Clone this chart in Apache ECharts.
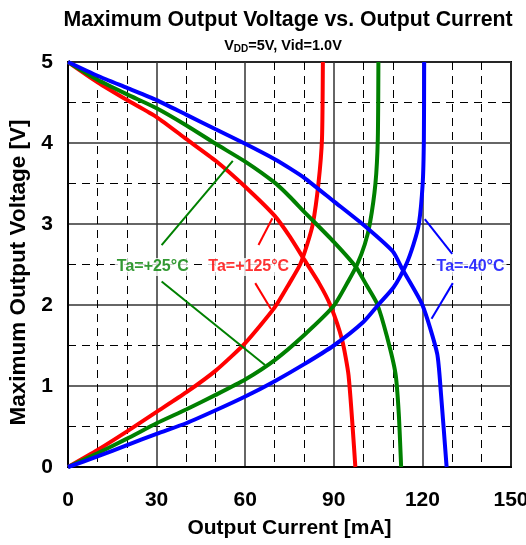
<!DOCTYPE html>
<html><head><meta charset="utf-8">
<script src="https://cdn.jsdelivr.net/npm/echarts@6/dist/echarts.min.js"></script>
<style>html,body{margin:0;padding:0;background:#fff}#c{width:526px;height:545px}</style>
</head><body><div id="c"></div>
<script>
// Tick labels
const xTickLabels = [0, 30, 60, 90, 120, 150];
const yTickLabels = [0, 1, 2, 3, 4, 5];

// Falling curves (from 5 V at 0 mA) [mA, V]
const fall125 = [[0,5],[10,4.75],[20,4.53],[30,4.32],[40,4.05],[50,3.78],[60,3.46],[70,3.1],[75,2.85],[80,2.56],[85,2.27],[88.8,2.0],[92.8,1.57],[95,1.13],[97.3,0]];
const fall25  = [[0,5],[10,4.78],[20,4.6],[30,4.43],[40,4.22],[50,3.99],[60,3.77],[70,3.51],[75,3.34],[80,3.15],[90,2.78],[97.5,2.47],[101,2.25],[104.6,2.02],[108,1.61],[110.9,1.15],[112,0.66],[112.8,0]];
const fallM40 = [[0,5],[10,4.83],[20,4.68],[30,4.53],[40,4.35],[50,4.17],[60,3.99],[70,3.8],[75,3.69],[80,3.57],[90,3.28],[100,2.99],[110,2.66],[113.1,2.45],[120,2.0],[125,1.4],[126.3,0.9],[128.2,0]];

// Rising curves (from 0 V at 0 mA) [mA, V]
const rise125 = [[0,0],[10,0.21],[20,0.44],[30,0.68],[40,0.92],[50,1.19],[60,1.53],[70,1.97],[75,2.27],[78.6,2.5],[81,2.75],[82.9,3.0],[84.8,3.5],[86,4.05],[86.3,5]];
const rise25  = [[0,0],[10,0.17],[20,0.35],[30,0.54],[40,0.71],[50,0.89],[60,1.08],[70,1.32],[80,1.63],[90,1.99],[95,2.3],[97.9,2.5],[100.5,2.75],[102.2,3.0],[104.1,3.5],[104.9,4.05],[105.1,5]];
const riseM40 = [[0,0],[10,0.13],[20,0.27],[30,0.41],[40,0.54],[50,0.7],[60,0.87],[70,1.06],[80,1.27],[90,1.5],[100,1.79],[105,2.0],[110.3,2.22],[114.5,2.5],[117,2.75],[118.8,3.0],[120.1,3.5],[120.5,4.05],[120.6,5]];

// Annotation labels and leader lines [mA, V]
const labelNames = ['Ta=+25°C', 'Ta=+125°C', 'Ta=-40°C'];
const labelPos = [[28.7, 2.47], [61.2, 2.47], [136.3, 2.47]];
const leader25 = [[[31.7,2.74],[55.8,3.78]], [[31.7,2.29],[66.7,1.26]]];
const leader125 = [[[64.5,2.74],[69.2,3.07]], [[63.4,2.27],[68.7,1.95]]];
const leaderM40 = [[[120.8,3.06],[130.1,2.63]], [[130.3,2.27],[123.1,1.83]]];

const RED = '#ff0000', GREEN = '#008000', BLUE = '#0000ff';
const FONT = 'Liberation Sans, Arial, sans-serif';

const curve = (data, color) => ({
  type: 'line', data, showSymbol: false, symbol: 'none', smooth: 0.2,
  lineStyle: { color, width: 4 }, silent: true, animation: false, z: 3
});
const leader = (data, color) => ({
  type: 'line', data, showSymbol: false, symbol: 'none',
  lineStyle: { color, width: 2 }, silent: true, animation: false, z: 4
});
const colors = [GREEN, RED, BLUE];

const series = [
  curve(fall125, RED), curve(rise125, RED),
  curve(fall25, GREEN), curve(rise25, GREEN),
  curve(fallM40, BLUE), curve(riseM40, BLUE)
];
leader25.forEach(d => series.push(leader(d, GREEN)));
leader125.forEach(d => series.push(leader(d, RED)));
leaderM40.forEach(d => series.push(leader(d, BLUE)));
labelNames.forEach((n, i) => series.push({
  type: 'scatter', symbol: 'circle', symbolSize: 1, itemStyle: { color: 'rgba(0,0,0,0)' },
  animation: false, silent: true, z: 5,
  data: [{ value: labelPos[i], name: n }],
  label: { show: true, position: 'inside', formatter: '{b}', color: colors[i],
           fontSize: 16, fontWeight: 'bold', fontFamily: FONT,
           backgroundColor: '#fff', padding: [1, 2, 1, 2] }
}));

const chart = echarts.init(document.getElementById('c'), null, { renderer: 'canvas' });
chart.setOption({
  animation: false,
  backgroundColor: '#fff',
  title: [
    { text: 'Maximum Output Voltage vs. Output Current', left: 283, top: 5, textAlign: 'center',
      textStyle: { fontSize: 21.3, fontWeight: 'bold', color: '#000', fontFamily: FONT } },
    { text: 'V{sub|DD}=5V, Vid=1.0V', left: 278, top: 33, textAlign: 'center',
      textStyle: { fontSize: 14.5, fontWeight: 'bold', color: '#000', fontFamily: FONT,
        rich: { sub: { fontSize: 10, fontWeight: 'bold', color: '#000', fontFamily: FONT, verticalAlign: 'bottom', padding: [6, 0, 0, 0] } } } }
  ],
  grid: { left: 68, right: 15, top: 62, bottom: 78, show: true, borderColor: '#000', borderWidth: 2, outerBoundsMode: 'none' },
  xAxis: {
    type: 'value', min: xTickLabels[0], max: xTickLabels[xTickLabels.length - 1], interval: 30,
    name: 'Output Current [mA]', nameLocation: 'middle', nameGap: 51,
    nameTextStyle: { fontSize: 21, fontWeight: 'bold', color: '#000', fontFamily: FONT },
    axisLine: { show: true, lineStyle: { color: '#000', width: 2 } },
    axisTick: { show: false },
    axisLabel: { margin: 23, fontSize: 21, fontWeight: 'bold', color: '#000', fontFamily: FONT },
    splitLine: { show: true, lineStyle: { color: '#333', width: 1.5 } },
    minorTick: { show: false, splitNumber: 3 },
    minorSplitLine: { show: true, lineStyle: { color: '#000', width: 1, type: [8, 6] } }
  },
  yAxis: {
    type: 'value', min: yTickLabels[0], max: yTickLabels[yTickLabels.length - 1], interval: 1,
    name: 'Maximum Output Voltage [V]', nameLocation: 'middle', nameGap: 36,
    nameTextStyle: { fontSize: 22.5, fontWeight: 'bold', color: '#000', fontFamily: FONT, padding: [0, 16, 0, 0] },
    axisLine: { show: true, lineStyle: { color: '#000', width: 2 } },
    axisTick: { show: false },
    axisLabel: { margin: 15, fontSize: 21, fontWeight: 'bold', color: '#000', fontFamily: FONT },
    splitLine: { show: true, lineStyle: { color: '#333', width: 1.5 } },
    minorTick: { show: false, splitNumber: 2 },
    minorSplitLine: { show: true, lineStyle: { color: '#000', width: 1, type: [8, 6] } }
  },
  series
});
</script>
</body></html>
